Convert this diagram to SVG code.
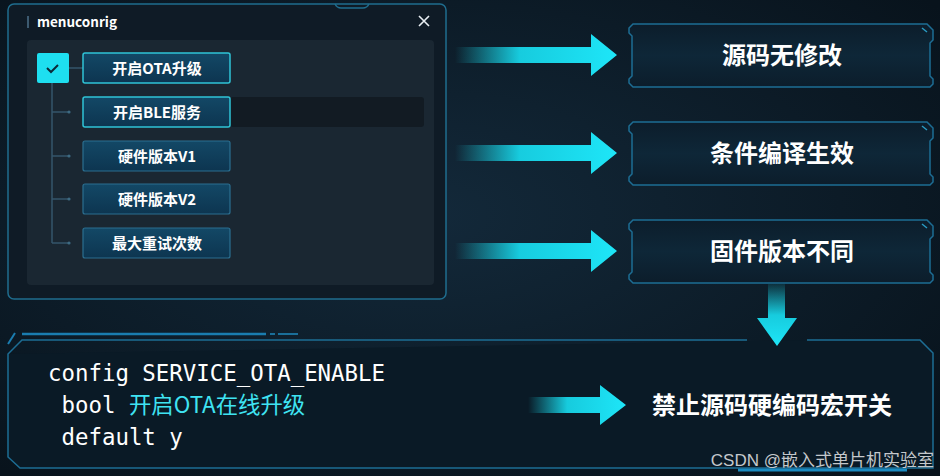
<svg xmlns="http://www.w3.org/2000/svg" width="940" height="476" viewBox="0 0 940 476">
<defs>
<radialGradient id="bg" cx="0.45" cy="0.45" r="0.7">
<stop offset="0" stop-color="#13293a"/>
<stop offset="1" stop-color="#08131c"/>
</radialGradient>
<linearGradient id="harrow" x1="0" y1="0" x2="1" y2="0">
<stop offset="0" stop-color="#18dff2" stop-opacity="0"/>
<stop offset="0.4" stop-color="#18dff2" stop-opacity="0.9"/>
<stop offset="1" stop-color="#1ee6f8"/>
</linearGradient>
<linearGradient id="varrow" x1="0" y1="0" x2="0" y2="1">
<stop offset="0" stop-color="#18dff2" stop-opacity="0.1"/>
<stop offset="0.5" stop-color="#18dff2" stop-opacity="0.9"/>
<stop offset="1" stop-color="#1ee6f8"/>
</linearGradient>
<linearGradient id="boxfill" x1="0" y1="0" x2="0" y2="1">
<stop offset="0" stop-color="#0c1d2b"/>
<stop offset="0.5" stop-color="#0e2738"/>
<stop offset="1" stop-color="#0c1d2b"/>
</linearGradient>
<linearGradient id="btnfill" x1="0" y1="0" x2="0" y2="1">
<stop offset="0" stop-color="#134866"/>
<stop offset="1" stop-color="#0d3550"/>
</linearGradient>
<style>
.win{fill:#0f1b26;stroke:#1f6d8e;stroke-width:1.5}
.inner{fill:#1a2732}
.btn{fill:url(#btnfill);stroke:#2b6f90;stroke-width:1.2}
.btn.on{stroke:#2fc4d6;stroke-width:1.5}
.bt{font-family:"Noto Sans CJK SC","Liberation Sans",sans-serif;font-weight:700;font-size:15px;fill:#ffffff;text-anchor:middle}
.tree{stroke:#35566b;stroke-width:1.5;fill:none}
.dot{fill:#3d6a82}
.rbox{fill:url(#boxfill);stroke:#1d6d94;stroke-width:1.5}
.rt{font-family:"Noto Sans CJK SC","Liberation Sans",sans-serif;font-weight:700;font-size:24px;fill:#ffffff;text-anchor:middle}
.code{font-family:"DejaVu Sans Mono","Liberation Mono","Noto Sans CJK SC",monospace;font-size:22.4px;fill:#ffffff}
.cn{font-family:"Noto Sans CJK SC",sans-serif;fill:#3fe3f2}
.arrow{fill:url(#harrow)}
.edge{fill:none;stroke:#1d6d94;stroke-width:1.5}
</style>
</defs>
<rect width="940" height="476" fill="url(#bg)"/>

<g id="menuconfig-window">
<rect class="win" x="8" y="4" width="438" height="295" rx="6"/>
<path d="M335 4 q2 4 6 4 h22 q4 0 6 -4" fill="none" stroke="#1f6d8e" stroke-width="1.5"/>
<rect x="27" y="16" width="2" height="12" fill="#3c5a70"/>
<text x="37" y="27" font-family="Noto Sans CJK SC, Liberation Sans, sans-serif" font-weight="700" font-size="13.5" fill="#ffffff">menuconrig</text>
<path d="M419 16 L429 26 M429 16 L419 26" stroke="#e8eef2" stroke-width="1.6"/>
<rect class="inner" x="27" y="40" width="407" height="245" rx="4"/>
<rect x="230" y="97" width="194" height="30" rx="3" fill="#121b23"/>
</g>

<g id="tree-lines">
<path class="tree" d="M52 83 V243 M52 112 H70 M52 156 H70 M52 199 H70 M52 243 H70 M69 68 H83"/>
<circle class="dot" cx="69" cy="112" r="1.6"/>
<circle class="dot" cx="69" cy="156" r="1.6"/>
<circle class="dot" cx="69" cy="199" r="1.6"/>
<circle class="dot" cx="69" cy="243" r="1.6"/>
</g>

<g id="checkbox">
<rect x="37" y="53" width="32" height="30" rx="2" fill="#1edff0"/>
<path d="M47 68 l4 4 l7 -7" fill="none" stroke="#0b2a38" stroke-width="2"/>
</g>

<g id="opt-ota">
<rect class="btn on" x="83" y="53" width="147" height="30" rx="2"/>
<text class="bt" x="157" y="73.5">开启OTA升级</text>
</g>
<g id="opt-ble">
<rect class="btn on" x="83" y="97" width="147" height="30" rx="2"/>
<text class="bt" x="157" y="117.5">开启BLE服务</text>
</g>
<g id="opt-v1">
<rect class="btn" x="83" y="141" width="147" height="30" rx="2"/>
<text class="bt" x="157" y="161.5">硬件版本V1</text>
</g>
<g id="opt-v2">
<rect class="btn" x="83" y="184" width="147" height="30" rx="2"/>
<text class="bt" x="157" y="204.5">硬件版本V2</text>
</g>
<g id="opt-retry">
<rect class="btn" x="83" y="228" width="147" height="30" rx="2"/>
<text class="bt" x="157" y="248.5">最大重试次数</text>
</g>

<g id="box-1">
<path class="rbox" d="M633 24 H927 L933 30 V40 L930 43 V76 L933 79 V84 L930 87 H633 L629 83 V79 L632 76 V36 L629 33 V28 Z"/>
<path d="M922 28 L927 32" stroke="#2a9cc4" stroke-width="1.5"/>
<text class="rt" x="782" y="64">源码无修改</text>
</g>
<g id="box-2">
<path class="rbox" d="M633 122 H927 L933 128 V138 L930 141 V174 L933 177 V182 L930 185 H633 L629 181 V177 L632 174 V134 L629 131 V126 Z"/>
<path d="M922 126 L927 130" stroke="#2a9cc4" stroke-width="1.5"/>
<text class="rt" x="782" y="162">条件编译生效</text>
</g>
<g id="box-3">
<path class="rbox" d="M633 220 H927 L933 226 V236 L930 239 V272 L933 275 V280 L930 283 H633 L629 279 V275 L632 272 V232 L629 229 V224 Z"/>
<path d="M922 224 L927 228" stroke="#2a9cc4" stroke-width="1.5"/>
<text class="rt" x="782" y="260">固件版本不同</text>
</g>

<g id="code-panel">
<path d="M22 340 H747 M807 340 H920 L933 353 V468 H20 L8 457 V354 Z" fill="#0a1a26" stroke="none"/>
<path class="edge" d="M747 340 H22 L8 354 V457 L20 468 H933 V353 L920 340 H807"/>
<path d="M22 334 H266" stroke="#1a7db0" stroke-width="2.5"/>
<path d="M270 334 H275 M278 334 H298" stroke="#1a6f9a" stroke-width="2"/>
<path d="M8 344 L15 333" stroke="#1a7db0" stroke-width="2"/>
<path d="M738 470 H907" stroke="#1a8ac0" stroke-width="3"/>
<text class="code" x="48" y="381">config SERVICE_OTA_ENABLE</text>
<text class="code" x="48" y="413" xml:space="preserve"> bool <tspan class="cn">开启OTA在线升级</tspan></text>
<text class="code" x="48" y="445" xml:space="preserve"> default y</text>
</g>

<g id="box-result">
<text x="772" y="414" font-family="Noto Sans CJK SC, sans-serif" font-weight="700" font-size="24" fill="#ffffff" text-anchor="middle">禁止源码硬编码宏开关</text>
</g>

<g id="connectors">
<path class="arrow" d="M455 47 H591 V34 L617 55 L591 76 V63 H455 Z"/>
<path class="arrow" d="M455 145 H591 V132 L617 153 L591 174 V161 H455 Z"/>
<path class="arrow" d="M455 243 H591 V230 L617 251 L591 272 V259 H455 Z"/>
<path d="M768 284 H785 V318 H797 L777 346 L757 318 H768 Z" fill="url(#varrow)"/>
<path class="arrow" d="M528 397 H600 V385 L626 405 L600 425 V413 H528 Z"/>
</g>

<text x="934" y="466" font-family="Liberation Sans, Noto Sans CJK SC, sans-serif" font-size="17" fill="#c4c8cc" text-anchor="end">CSDN @嵌入式单片机实验室</text>
</svg>
